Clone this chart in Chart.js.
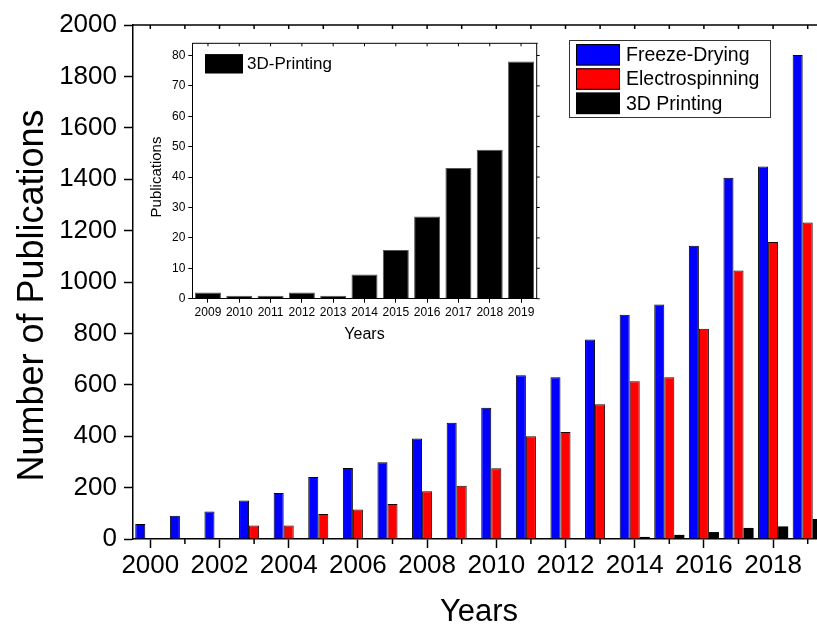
<!DOCTYPE html>
<html>
<head>
<meta charset="utf-8">
<script src="https://cdn.jsdelivr.net/npm/chart.js@4.4.1/dist/chart.umd.min.js"></script>
<style>
  html, body { margin: 0; padding: 0; overflow: hidden; background: #fff; }
  #wrap { position: relative; width: 817px; height: 626px; overflow: hidden; }
  #main { position: absolute; left: 0; top: 0; }
  #inset { position: absolute; left: 130px; top: 30px; }
</style>
</head>
<body>
<div id="wrap">
  <canvas id="main" width="860" height="640"></canvas>
  <canvas id="inset" width="420" height="320"></canvas>
</div>
<script>
// Publications per year by scaffold fabrication method
const FONT = "'Liberation Sans', Arial, sans-serif";

const years = ["2000", "2001", "2002", "2003", "2004", "2005", "2006", "2007", "2008", "2009",
  "2010", "2011", "2012", "2013", "2014", "2015", "2016", "2017", "2018", "2019"];
const freezeDrying = [58, 90, 107, 150, 179, 241, 276, 299, 391, 452,
  511, 637, 629, 776, 873, 912, 1141, 1406, 1449, 1883];
const electrospinning = [1, 1, 3, 53, 53, 97, 115, 136, 186, 207,
  275, 400, 416, 524, 614, 629, 818, 1045, 1156, 1232];
const printing3D = [0, 0, 0, 0, 0, 0, 0, 0, 0, 2,
  1, 1, 2, 1, 8, 16, 27, 43, 49, 78];

const insetYears = ["2009", "2010", "2011", "2012", "2013", "2014", "2015", "2016", "2017", "2018", "2019"];
const insetPrinting = [2, 1, 1, 2, 1, 8, 16, 27, 43, 49, 78];

const CLEAR = "rgba(0,0,0,0)";

// minor ticks, frame, rotated y title and legend box
const extras = {
  id: "extras",
  afterDraw(chart, args, opts) {
    const ctx = chart.ctx;
    const area = chart.chartArea;
    const xs = chart.scales.x;
    const ys = chart.scales.y;
    const seg = (x1, y1, x2, y2) => {
      ctx.beginPath();
      ctx.moveTo(x1, y1);
      ctx.lineTo(x2, y2);
      ctx.stroke();
    };
    ctx.save();
    ctx.strokeStyle = "#000";
    ctx.lineWidth = opts.lineWidth;

    ys.ticks.forEach((t) => {
      if (t.label !== "") return;
      const py = ys.getPixelForValue(t.value);
      seg(area.left - opts.minorLen, py, area.left, py);
    });
    xs.ticks.forEach((t, i) => {
      if (t.label !== "") return;
      const px = xs.getPixelForTick(i);
      seg(px, area.bottom, px, area.bottom + opts.minorLen);
    });

    // top frame (and right frame for the inset)
    seg(area.left, area.top, area.right + 1, area.top);
    xs.ticks.forEach((t, i) => {
      const px = xs.getPixelForTick(i);
      seg(px, area.top, px, area.top + opts.topTick);
    });
    if (opts.rightFrame) {
      seg(area.right, area.top, area.right, area.bottom);
      ys.ticks.forEach((t) => {
        const py = ys.getPixelForValue(t.value);
        const len = t.label === "" ? opts.minorLen : opts.topTick;
        seg(area.right, py, area.right + len, py);
      });
    }

    // rotated y title
    const yt = opts.yTitle;
    ctx.fillStyle = "#000";
    ctx.font = yt.size + "px " + FONT;
    ctx.textAlign = "center";
    ctx.textBaseline = "alphabetic";
    ctx.save();
    ctx.translate(yt.x, yt.y);
    ctx.rotate(-Math.PI / 2);
    ctx.fillText(yt.text, 0, 0);
    ctx.restore();

    // legend
    const lg = opts.legend;
    if (lg.box) {
      ctx.lineWidth = 1;
      ctx.strokeStyle = "#333";
      ctx.strokeRect(lg.box[0], lg.box[1], lg.box[2], lg.box[3]);
    }
    ctx.font = lg.size + "px " + FONT;
    ctx.textAlign = "left";
    ctx.textBaseline = "middle";
    chart.data.datasets.forEach((ds, i) => {
      const top = lg.y + i * lg.step;
      ctx.fillStyle = ds.backgroundColor;
      ctx.fillRect(lg.x, top, lg.w, lg.h);
      ctx.lineWidth = 1;
      ctx.strokeStyle = "#000";
      ctx.strokeRect(lg.x + 0.5, top + 0.5, lg.w - 1, lg.h - 1);
      ctx.fillStyle = "#000";
      ctx.fillText(ds.label, lg.textX, top + lg.h / 2 + 1);
    });
    ctx.restore();
  }
};

new Chart(document.getElementById("main"), {
  type: "bar",
  data: {
    labels: years,
    datasets: [
      { label: "Freeze-Drying", data: freezeDrying, backgroundColor: "#0000ff", borderColor: "#000", borderWidth: 1 },
      { label: "Electrospinning", data: electrospinning, backgroundColor: "#ff0000", borderColor: "#200", borderWidth: 1 },
      { label: "3D Printing", data: printing3D, backgroundColor: "#000000", borderColor: "#000", borderWidth: 0 }
    ]
  },
  options: {
    responsive: false,
    animation: false,
    devicePixelRatio: 1,
    categoryPercentage: 0.87,
    barPercentage: 1.0,
    layout: { padding: { top: 25, right: 35, bottom: 0, left: 0 } },
    plugins: {
      legend: { display: false },
      tooltip: { enabled: false },
      extras: {
        lineWidth: 1.5,
        minorLen: 5,
        topTick: 4,
        rightFrame: false,
        yTitle: { text: "Number of Publications", x: 43, y: 295.5, size: 36 },
        legend: { box: [569.5, 40.5, 201, 77], x: 576, y: 44, step: 24.3, w: 44, h: 21.5, textX: 626, size: 19.5 }
      }
    },
    scales: {
      x: {
        type: "category",
        offset: true,
        grid: {
          drawOnChartArea: false,
          offset: false,
          tickLength: 9,
          tickWidth: 1.5,
          tickColor: (c) => (c.index % 2 === 0 ? "#000" : CLEAR)
        },
        border: { display: true, color: "#000", width: 1.5 },
        ticks: {
          autoSkip: false,
          maxRotation: 0,
          padding: 2,
          color: "#000",
          font: { family: FONT, size: 26 },
          callback: (v, i) => (i % 2 === 0 ? years[i] : "")
        },
        title: {
          display: true,
          text: "Years",
          color: "#000",
          font: { family: FONT, size: 31 },
          padding: { top: 0, bottom: 8.5 }
        },
        afterFit: (s) => { s.height = 101; }
      },
      y: {
        min: 0,
        max: 2000,
        grid: {
          drawOnChartArea: false,
          tickLength: 9,
          tickWidth: 1.5,
          tickColor: (c) => (c.tick && c.tick.value % 200 === 0 ? "#000" : CLEAR)
        },
        border: { display: true, color: "#000", width: 1.5 },
        ticks: {
          stepSize: 100,
          padding: 7,
          color: "#000",
          font: { family: FONT, size: 26 },
          callback: (v) => (v % 200 === 0 ? String(v) : "")
        },
        afterFit: (s) => { s.width = 133; }
      }
    }
  },
  plugins: [extras]
});

new Chart(document.getElementById("inset"), {
  type: "bar",
  data: {
    labels: insetYears,
    datasets: [
      { label: "3D-Printing", data: insetPrinting, backgroundColor: "#000000", borderColor: "#555", borderWidth: 1 }
    ]
  },
  options: {
    responsive: false,
    animation: false,
    devicePixelRatio: 1,
    categoryPercentage: 0.83,
    barPercentage: 1.0,
    layout: { padding: { top: 13.3, right: 13.3, bottom: 0, left: 0 } },
    plugins: {
      legend: { display: false },
      tooltip: { enabled: false },
      extras: {
        lineWidth: 1,
        minorLen: 2.5,
        topTick: 3,
        rightFrame: true,
        yTitle: { text: "Publications", x: 30.7, y: 147, size: 15 },
        legend: { box: null, x: 75, y: 24.3, step: 0, w: 38, h: 19, textX: 117, size: 17 }
      }
    },
    scales: {
      x: {
        type: "category",
        offset: true,
        grid: {
          drawOnChartArea: false,
          offset: false,
          tickLength: 4,
          tickWidth: 1,
          tickColor: "#000"
        },
        border: { display: true, color: "#000", width: 1 },
        ticks: {
          autoSkip: false,
          maxRotation: 0,
          padding: 3,
          color: "#000",
          font: { family: FONT, size: 12 }
        },
        title: {
          display: true,
          text: "Years",
          color: "#000",
          font: { family: FONT, size: 16 },
          padding: { top: 0, bottom: 5.4 }
        },
        afterFit: (s) => { s.height = 51.3; }
      },
      y: {
        min: 0,
        max: 84,
        grid: {
          drawOnChartArea: false,
          tickLength: 4,
          tickWidth: 1,
          tickColor: (c) => (c.tick && c.tick.value % 10 === 0 ? "#000" : CLEAR)
        },
        border: { display: true, color: "#000", width: 1 },
        ticks: {
          stepSize: 5,
          includeBounds: false,
          padding: 3,
          color: "#000",
          font: { family: FONT, size: 12 },
          callback: (v) => (v % 10 === 0 ? String(v) : "")
        },
        afterFit: (s) => { s.width = 62.3; }
      }
    }
  },
  plugins: [extras]
});
</script>
</body>
</html>
